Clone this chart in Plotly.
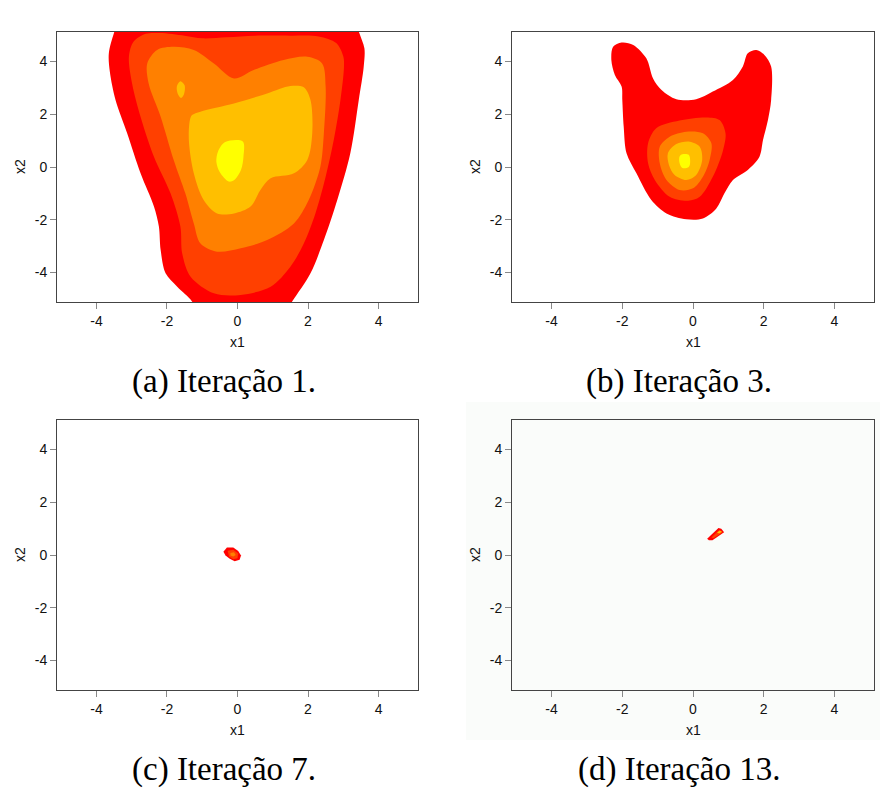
import plotly.graph_objects as go

# Contour levels (lowest to highest density) and their fill colours
level_colors = ["#FF0000", "#FF4000", "#FF8000", "#FFBF00", "#FFFF00"]

# Density contour outlines per iteration: lists of (x1, x2) vertices per level
it1_red = [(-3.3, 5.8), (-3.5, 5.1), (-3.65, 4.3), (-3.62, 3.6), (-3.46, 2.54), (-3.13, 1.28),
           (-2.75, -0.24), (-2.37, -1.5), (-2.23, -2.26), (-2.18, -3.15), (-2.04, -4.03),
           (-1.71, -4.54), (-1.29, -5.1), (-1.1, -5.8), (1.2, -5.8), (1.55, -5.1),
           (2.07, -4.03), (2.45, -2.77), (2.83, -1.25), (3.2, 0.52), (3.44, 2.54),
           (3.58, 3.8), (3.6, 4.5), (3.45, 5.1), (3.3, 5.8)]
it1_orangered = [(-3.08, 4.18), (-2.95, 4.75), (-2.6, 5.05), (-2.2, 5.08), (-1.5, 4.98),
                 (-1.0, 4.88), (-0.3, 4.92), (0.5, 4.98), (1.5, 4.98), (2.3, 4.95),
                 (2.8, 4.7), (3.0, 4.2), (3.02, 3.8), (2.92, 2.54), (2.73, 1.02),
                 (2.50, -0.37), (2.21, -1.76), (1.88, -2.90), (1.50, -3.78), (0.94, -4.54),
                 (0.09, -4.85), (-0.67, -4.79), (-1.33, -4.16), (-1.57, -3.27),
                 (-1.62, -2.26), (-1.90, -1.0), (-2.37, 0.39), (-2.75, 1.91), (-2.99, 3.17)]
it1_orange = [(-2.56, 3.93), (-2.28, 4.44), (-1.81, 4.56), (-1.24, 4.44), (-0.67, 3.93),
              (-0.10, 3.36), (0.46, 3.68), (1.31, 4.06), (1.98, 4.18), (2.40, 3.93),
              (2.50, 3.05), (2.45, 1.28), (2.35, 0.01), (2.02, -1.25), (1.60, -2.14),
              (0.84, -2.77), (0.09, -3.08), (-0.58, -3.21), (-1.05, -2.90), (-1.24, -2.14),
              (-1.48, -1.0), (-1.81, 0.27), (-2.18, 1.91), (-2.52, 3.17)]
it1_amber = [(-1.29, 1.97), (-1.05, 2.10), (-0.10, 2.41), (0.84, 2.79), (1.50, 3.07),
             (1.88, 3.02), (2.07, 2.54), (2.12, 1.28), (1.98, 0.27), (1.60, -0.24),
             (0.94, -0.43), (0.65, -0.87), (0.37, -1.50), (-0.10, -1.76), (-0.58, -1.76),
             (-0.96, -1.25), (-1.24, -0.24), (-1.38, 1.02), (-1.35, 1.78)]
it1_amber_islet = [(-1.72, 3.05), (-1.62, 3.25), (-1.5, 3.1), (-1.52, 2.75), (-1.6, 2.62),
                   (-1.7, 2.8)]
it1_yellow = [(-0.35, 0.95), (0.15, 0.97), (0.17, 0.4), (0.1, -0.1), (-0.1, -0.5),
              (-0.25, -0.55), (-0.5, -0.2), (-0.6, 0.2), (-0.55, 0.6)]

it3_red = [(-2.26, 4.56), (-2.02, 4.72), (-1.69, 4.63), (-1.32, 4.12), (-1.13, 3.36),
           (-0.89, 2.92), (-0.47, 2.57), (0.09, 2.57), (0.56, 2.86), (1.13, 3.30),
           (1.41, 3.81), (1.55, 4.31), (1.79, 4.44), (2.02, 4.25), (2.21, 3.81),
           (2.21, 2.54), (2.12, 1.78), (1.98, 1.02), (1.88, 0.39), (1.55, -0.11),
           (1.13, -0.49), (0.89, -1.0), (0.66, -1.57), (0.28, -1.95), (-0.19, -1.98),
           (-0.75, -1.76), (-1.18, -1.25), (-1.60, -0.24), (-1.88, 0.52), (-1.96, 1.53),
           (-2.0, 2.54), (-2.02, 3.05), (-2.21, 3.49), (-2.31, 4.06)]
it3_orangered = [(-1.27, 0.9), (-1.04, 1.47), (-0.38, 1.76), (0.38, 1.88), (0.75, 1.78),
                 (0.92, 1.28), (0.85, 0.64), (0.56, -0.37), (0.19, -1.13), (-0.14, -1.28),
                 (-0.66, -1.13), (-1.08, -0.49), (-1.27, 0.14)]
it3_orange = [(-0.94, 0.77), (-0.66, 1.15), (-0.19, 1.34), (0.28, 1.28), (0.52, 0.9),
              (0.47, 0.27), (0.28, -0.37), (0.0, -0.81), (-0.38, -0.87), (-0.75, -0.49),
              (-0.94, 0.14)]
it3_amber = [(-0.71, 0.52), (-0.47, 0.87), (-0.09, 0.96), (0.19, 0.77), (0.26, 0.27),
             (0.09, -0.30), (-0.19, -0.49), (-0.52, -0.30), (-0.68, 0.08)]
it3_yellow = [(-0.38, 0.4), (-0.3, 0.48), (-0.12, 0.46), (-0.08, 0.2), (-0.12, 0.0),
              (-0.3, -0.04), (-0.38, 0.15)]

it7_red = [(-0.40, 0.12), (-0.30, 0.28), (-0.12, 0.28), (0.02, 0.15), (0.10, -0.02),
           (0.06, -0.18), (-0.08, -0.24), (-0.22, -0.14), (-0.34, -0.02)]
it7_orangered = [(-0.28, 0.16), (-0.12, 0.2), (0.02, 0.06), (0.0, -0.12), (-0.12, -0.16),
                 (-0.24, -0.06)]
it7_orange = [(-0.2, 0.08), (-0.1, 0.1), (-0.05, 0.0), (-0.12, -0.06), (-0.2, -0.02)]

it13_red = [(0.40, 0.62), (0.72, 1.02), (0.80, 1.0), (0.88, 0.86), (0.55, 0.56), (0.45, 0.56)]
it13_orangered = [(0.52, 0.66), (0.74, 0.95), (0.84, 0.86), (0.58, 0.64)]
it13_amber = [(0.68, 0.85), (0.76, 0.93), (0.82, 0.88), (0.74, 0.82)]

panels = [
    ("(a) Iteração 1.", [(it1_red, 0), (it1_orangered, 1), (it1_orange, 2), (it1_amber, 3),
                         (it1_amber_islet, 3), (it1_yellow, 4)], "spline"),
    ("(b) Iteração 3.", [(it3_red, 0), (it3_orangered, 1), (it3_orange, 2), (it3_amber, 3),
                         (it3_yellow, 4)], "spline"),
    ("(c) Iteração 7.", [(it7_red, 0), (it7_orangered, 1), (it7_orange, 2)], "linear"),
    ("(d) Iteração 13.", [(it13_red, 0), (it13_orangered, 1), (it13_amber, 3)], "linear"),
]

tick_vals = [-4, -2, 0, 2, 4]
tick_text = ["-4", "-2", "0", "2", "4"]
axis_range = [-5.12, 5.12]

W, H = 880, 790
# plot-area pixel boxes (left, right, top, bottom)
boxes = [(57, 418, 32, 302), (512, 874, 32, 302), (57, 418, 420, 690), (512, 874, 420, 690)]

fig = go.Figure()
layout = dict(width=W, height=H, margin=dict(l=0, r=0, t=0, b=0),
              paper_bgcolor="white", plot_bgcolor="rgba(0,0,0,0)", showlegend=False)

tick_font = dict(family="Liberation Sans, Arial, sans-serif", size=14, color="#111")
caption_font = dict(family="Liberation Serif, serif", size=33, color="#000")
annotations = []
for i, ((caption, levels, shape), (l, r, t, b)) in enumerate(zip(panels, boxes)):
    sfx = "" if i == 0 else str(i + 1)
    for poly, lv in levels:
        xs = [p[0] for p in poly] + [poly[0][0]]
        ys = [p[1] for p in poly] + [poly[0][1]]
        fig.add_trace(go.Scatter(x=xs, y=ys, mode="lines", fill="toself",
                                 fillcolor=level_colors[lv],
                                 line=dict(width=0, shape=shape, smoothing=0.9,
                                           color=level_colors[lv]),
                                 hoverinfo="skip", xaxis="x" + sfx, yaxis="y" + sfx))
    common = dict(range=axis_range, tickvals=tick_vals, ticktext=tick_text,
                  showgrid=False, zeroline=False, showline=True, mirror=True,
                  linecolor="#444", linewidth=1, ticks="outside", ticklen=6,
                  tickcolor="#888", tickfont=tick_font, fixedrange=True)
    layout["xaxis" + sfx] = dict(common, domain=[l / W, r / W], anchor="y" + sfx)
    layout["yaxis" + sfx] = dict(common, domain=[1 - b / H, 1 - t / H], anchor="x" + sfx)
    cx = (l + r) / 2
    cy = (t + b) / 2
    annotations.append(dict(text="x1", x=cx / W, y=1 - (b + 40) / H, xref="paper", yref="paper",
                            showarrow=False, font=tick_font, xanchor="center", yanchor="middle"))
    annotations.append(dict(text="x2", x=(l - 37) / W, y=1 - cy / H, xref="paper", yref="paper",
                            showarrow=False, font=tick_font, textangle=-90,
                            xanchor="center", yanchor="middle"))
    annotations.append(dict(text=caption, x=(cx - 14) / W, y=1 - (b + 79) / H,
                            xref="paper", yref="paper", showarrow=False,
                            font=caption_font, xanchor="center", yanchor="middle"))

layout["annotations"] = annotations
# faint backdrop behind the last panel
layout["shapes"] = [dict(type="rect", xref="paper", yref="paper", x0=466 / W, x1=1.0,
                         y0=1 - 740 / H, y1=1 - 402 / H, fillcolor="#fafcfa",
                         line=dict(width=0), layer="below")]
fig.update_layout(**layout)
fig.write_html("out.html")
